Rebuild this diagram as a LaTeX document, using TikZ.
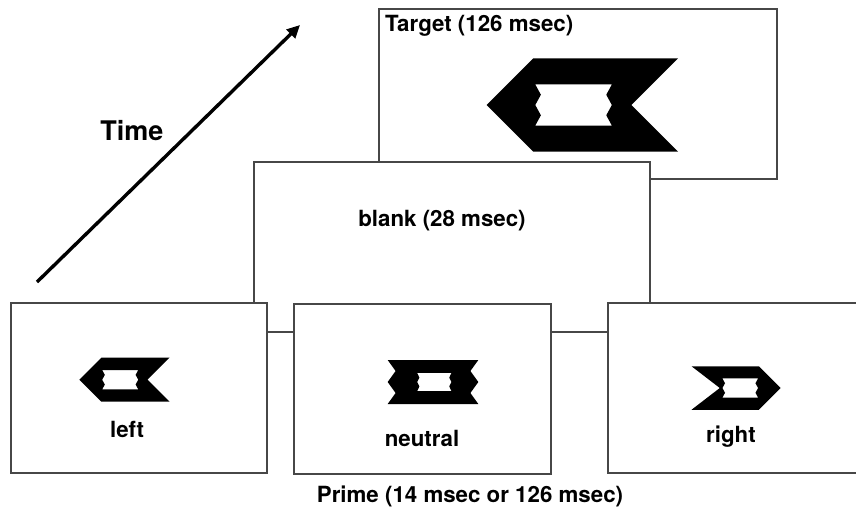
\documentclass[tikz,border=0pt]{standalone}
\usepackage{fontspec}
\setmainfont{TeX Gyre Heros}
\usetikzlibrary{arrows.meta}
\tikzset{
  panel/.style={draw=black!72, line width=1.4pt, fill=white, inner sep=0pt},
  lab/.style={font=\fontsize{22.3}{25}\selectfont\bfseries, inner sep=0pt},
}
% chevron arrow icon: #1 tip x, #2 tip y, #3 xscale (sign gives direction), #4 height, #5 notch depth
\newcommand\chevicon[5]{%
  \begin{scope}[shift={(#1,#2)}, xscale=#3, yscale=#4]
    \fill[even odd rule]
      (0,0) -- (0.5,-0.5) -- (2.05,-0.5) -- ({2.05-#5},0) -- (2.05,0.5) -- (0.5,0.5) -- cycle
      (0.52,-0.22) -- (0.58,-0.11) -- (0.52,0) -- (0.58,0.11) -- (0.52,0.22)
      -- (1.34,0.22) -- (1.28,0.11) -- (1.34,0) -- (1.28,-0.11) -- (1.34,-0.22) -- cycle;
  \end{scope}}
% neutral icon: #1 centre x, #2 centre y, #3 height
\newcommand\neuticon[3]{%
  \begin{scope}[shift={(#1,#2)}, scale=#3]
    \fill[even odd rule]
      (-1.03,-0.5) -- (1.03,-0.5) -- (0.85,-0.25) -- (1.03,0) -- (0.85,0.25) -- (1.03,0.5)
      -- (-1.03,0.5) -- (-0.85,0.25) -- (-1.03,0) -- (-0.85,-0.25) -- cycle
      (-0.36,-0.21) -- (-0.31,-0.1) -- (-0.36,0) -- (-0.31,0.1) -- (-0.36,0.21)
      -- (0.42,0.21) -- (0.37,0.1) -- (0.42,0) -- (0.37,-0.1) -- (0.42,-0.21) -- cycle;
  \end{scope}}
\begin{document}
\begin{tikzpicture}[x=1pt, y=-1pt]
\useasboundingbox (0,0) rectangle (856,512);
\clip (0,0) rectangle (856,512);
\fill[white] (0,0) rectangle (856,512);

% target panel
\node[panel, minimum width=398pt, minimum height=170pt] (target) at (578,94) {};
\node[lab, anchor=west] (targetlab) at (385,26) {Target (126 msec)};
\chevicon{486.7}{105}{93.4}{93.4}{0.5}

% blank panel
\node[panel, minimum width=396pt, minimum height=170pt] (blank) at (452,247) {};
\node[lab] (blanklab) at (442,221) {blank (28 msec)};

% prime panels
\node[panel, minimum width=256pt, minimum height=170pt] (left) at (139,388) {};
\node[panel, minimum width=257pt, minimum height=170pt] (neutral) at (422.5,389) {};
\node[panel, minimum width=262pt, minimum height=170pt] (right) at (739,388) {};

\chevicon{79.3}{379.7}{44}{44}{0.5}
\node[lab] (leftlab) at (127,429) {left};

\neuticon{433}{382}{44}
\node[lab] (neutlab) at (422,438) {neutral};

\chevicon{780.7}{388}{-43.5}{43.5}{0.65}
\node[lab] (rightlab) at (731,437) {right};

\node[lab] (primelab) at (470,496) {Prime (14 msec or 126 msec)};

% time arrow
\coordinate (t0) at (37,282);
\coordinate (t1) at (300,25);
\draw[line width=3.4pt, -{Triangle[length=13pt,width=12pt]}] (t0) -- (t1);
\node[lab, font=\fontsize{27}{31}\selectfont\bfseries] (timelab) at (132,131) {Time};
\end{tikzpicture}
\end{document}
